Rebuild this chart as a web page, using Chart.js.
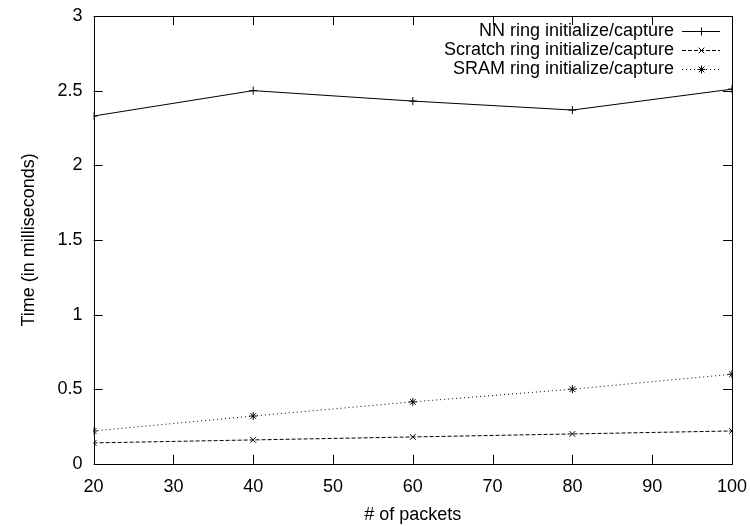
<!DOCTYPE html>
<html>
<head>
<meta charset="utf-8">
<script src="https://cdn.jsdelivr.net/npm/chart.js@4/dist/chart.umd.min.js"></script>
<style>
  html, body { margin: 0; padding: 0; background: #fff; }
  #wrap { width: 750px; height: 526px; }
</style>
</head>
<body>
<div id="wrap"><canvas id="chart"></canvas></div>
<script>
// data
const packets = [20, 40, 60, 80, 100];
const nnRing = [2.33, 2.50, 2.43, 2.37, 2.51];
const scratchRing = [0.14, 0.16, 0.18, 0.20, 0.22];
const sramRing = [0.22, 0.32, 0.415, 0.50, 0.60];
const seriesNames = [
  'NN ring initialize/capture',
  'Scratch ring initialize/capture',
  'SRAM ring initialize/capture'
];

const FONT = 'Liberation Sans, Arial, sans-serif';
const FS = 18;

function pts(ys) {
  return packets.map((x, i) => ({ x: x, y: ys[i] }));
}

// gnuplot-like frame, inward ticks and legend in the upper right
const gnuplotBits = {
  id: 'gnuplotBits',
  afterDraw(chart) {
    const ctx = chart.ctx;
    const a = chart.chartArea;
    const xs = chart.scales.x, ys = chart.scales.y;
    ctx.save();
    ctx.strokeStyle = '#000';
    ctx.lineWidth = 1;
    ctx.setLineDash([]);
    ctx.strokeRect(Math.round(a.left) + 0.5, Math.round(a.top) + 0.5,
      Math.round(a.right - a.left), Math.round(a.bottom - a.top));
    const tl = 9;
    ctx.beginPath();
    xs.ticks.forEach(t => {
      const px = Math.round(xs.getPixelForValue(t.value)) + 0.5;
      ctx.moveTo(px, a.bottom); ctx.lineTo(px, a.bottom - tl);
      ctx.moveTo(px, a.top); ctx.lineTo(px, a.top + tl);
    });
    ys.ticks.forEach(t => {
      const py = Math.round(ys.getPixelForValue(t.value)) + 0.5;
      ctx.moveTo(a.left, py); ctx.lineTo(a.left + tl, py);
      ctx.moveTo(a.right, py); ctx.lineTo(a.right - tl, py);
    });
    ctx.stroke();

    // legend
    ctx.font = FS + 'px ' + FONT;
    ctx.fillStyle = '#000';
    ctx.textAlign = 'right';
    ctx.textBaseline = 'middle';
    const textRight = a.right - 58;
    const sx0 = a.right - 50, sx1 = a.right - 12;
    chart.data.datasets.forEach((ds, i) => {
      const y = Math.round(a.top + 15 + i * 19);
      ctx.fillText(ds.label, textRight, y);
      ctx.setLineDash(ds.borderDash || []);
      ctx.beginPath();
      ctx.moveTo(sx0, y + 0.5); ctx.lineTo(sx1, y + 0.5);
      ctx.stroke();
      ctx.setLineDash([]);
      Chart.helpers.drawPoint(ctx, {
        pointStyle: ds.pointStyle, radius: ds.pointRadius, borderWidth: 1
      }, Math.round((sx0 + sx1) / 2) + 0.5, y + 0.5);
    });
    ctx.restore();
  }
};

const config = {
  type: 'line',
  data: {
    datasets: [
      {
        label: seriesNames[0], data: pts(nnRing),
        borderColor: '#000', backgroundColor: '#000', borderWidth: 1,
        pointStyle: 'cross', pointRadius: 4, pointBorderWidth: 1,
        borderDash: []
      },
      {
        label: seriesNames[1], data: pts(scratchRing),
        borderColor: '#000', backgroundColor: '#000', borderWidth: 1,
        pointStyle: 'crossRot', pointRadius: 4, pointBorderWidth: 1,
        borderDash: [4, 2]
      },
      {
        label: seriesNames[2], data: pts(sramRing),
        borderColor: '#000', backgroundColor: '#000', borderWidth: 1,
        pointStyle: 'star', pointRadius: 4, pointBorderWidth: 1,
        borderDash: [1, 3]
      }
    ]
  },
  options: {
    responsive: false,
    animation: false,
    devicePixelRatio: 1,
    layout: { padding: { left: 14, right: 18, top: 16, bottom: 0 } },
    plugins: {
      legend: { display: false },
      tooltip: { enabled: false }
    },
    scales: {
      x: {
        type: 'linear', min: 20, max: 100,
        ticks: { stepSize: 10, color: '#000', font: { family: FONT, size: FS }, padding: 0 },
        grid: { display: false, tickLength: 12 },
        border: { display: false },
        title: { display: true, text: '# of packets', color: '#000', font: { family: FONT, size: FS }, padding: { top: 7, bottom: 0 } }
      },
      y: {
        min: 0, max: 3,
        ticks: {
          stepSize: 0.5, color: '#000', font: { family: FONT, size: FS }, padding: 5,
          callback: v => String(v)
        },
        grid: { display: false, tickLength: 6 },
        border: { display: false },
        title: { display: true, text: 'Time (in milliseconds)', color: '#000', font: { family: FONT, size: FS }, padding: { top: 4, bottom: 13 } }
      }
    }
  },
  plugins: [gnuplotBits]
};

const canvas = document.getElementById('chart');
canvas.width = 750;
canvas.height = 526;
new Chart(canvas, config);
</script>
</body>
</html>
